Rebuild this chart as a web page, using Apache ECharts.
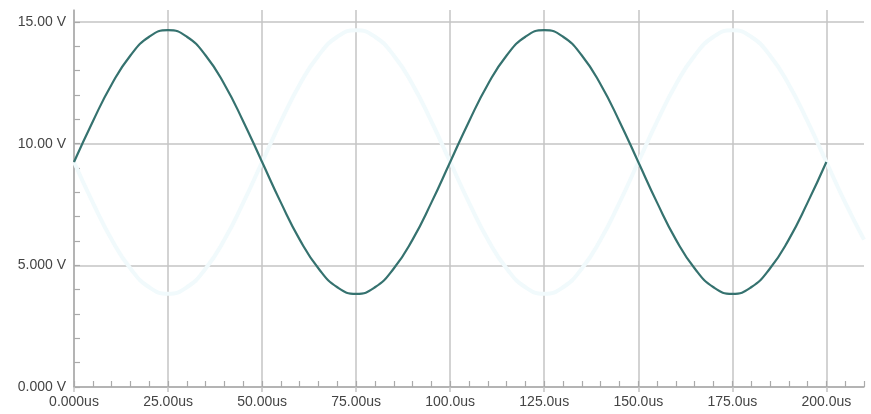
<!DOCTYPE html>
<html>
<head>
<meta charset="utf-8">
<script src="https://cdn.jsdelivr.net/npm/echarts@6/dist/echarts.min.js"></script>
<style>html,body{margin:0;padding:0;background:#fff}#c{width:871px;height:414px}</style>
</head>
<body>
<div id="c"></div>
<script>
// time axis (us) for sampled points
var timeUs = [0,5,10,15,20,25,30,35,40,45,50,55,60,65,70,75,80,85,90,95,100,
  105,110,115,120,125,130,135,140,145,150,155,160,165,170,175,180,185,190,195,200,205,210];
// dark trace (V), 0..200us
var traceMain = [9.25,10.92,12.44,13.63,14.40,14.67,14.40,13.63,12.44,10.92,9.25,7.58,6.06,4.87,4.10,3.83,4.10,4.87,6.06,7.58,9.25,
  10.92,12.44,13.63,14.40,14.67,14.40,13.63,12.44,10.92,9.25,7.58,6.06,4.87,4.10,3.83,4.10,4.87,6.06,7.58,9.25];
// faint trace (V), 0..210us
var traceFaint = [9.25,7.58,6.06,4.87,4.10,3.83,4.10,4.87,6.06,7.58,9.25,10.92,12.44,13.63,14.40,14.67,14.40,13.63,12.44,10.92,9.25,
  7.58,6.06,4.87,4.10,3.83,4.10,4.87,6.06,7.58,9.25,10.92,12.44,13.63,14.40,14.67,14.40,13.63,12.44,10.92,9.25,7.58,6.06];
var xLabels = {0:'0.000us',25:'25.00us',50:'50.00us',75:'75.00us',100:'100.0us',125:'125.0us',150:'150.0us',175:'175.0us',200:'200.0us'};
var yLabels = {0:'0.000 V',5:'5.000 V',10:'10.00 V',15:'15.00 V'};

var mainData = traceMain.map(function(v,i){return [timeUs[i], v];});
var faintData = traceFaint.map(function(v,i){return [timeUs[i], v];});

var font = 'Liberation Sans, Arial, sans-serif';
var labelColor = '#444';
var gridColor = '#c4c4c4';
var chart = echarts.init(document.getElementById('c'), null, {renderer:'canvas'});
chart.setOption({
  animation:false,
  backgroundColor:'#fff',
  grid:[
    {left:74, right:7, top:10, bottom:27, containLabel:false},
    {left:74, right:7, top:22, bottom:27, containLabel:false}
  ],
  xAxis:[
    {type:'value', gridIndex:0, min:0, max:210, interval:25,
     axisLine:{show:true, lineStyle:{color:'#aaa', width:1.5}},
     axisTick:{show:true, inside:false, length:5, lineStyle:{color:gridColor, width:1.5}},
     axisLabel:{showMaxLabel:false, color:labelColor, fontFamily:font, fontSize:14, margin:8,
       formatter:function(v){return xLabels[v]!==undefined?xLabels[v]:'';}},
     splitLine:{show:true, showMaxLine:false, lineStyle:{color:gridColor, width:1.5}}},
    {type:'value', gridIndex:1, min:0, max:210, interval:5,
     axisLine:{show:false}, axisLabel:{show:false}, splitLine:{show:false},
     axisTick:{show:true, inside:true, length:6, lineStyle:{color:'#aaa', width:1.2}}}
  ],
  yAxis:[
    {type:'value', gridIndex:0, min:0, max:15.5, interval:5,
     axisLine:{show:true, lineStyle:{color:'#aaa', width:1.5}},
     axisTick:{show:false},
     axisLabel:{showMaxLabel:false, color:labelColor, fontFamily:font, fontSize:14, margin:8,
       formatter:function(v){return yLabels[v]!==undefined?yLabels[v]:'';}},
     splitLine:{show:true, showMaxLine:false, lineStyle:{color:gridColor, width:1.5}}},
    {type:'value', gridIndex:1, min:0, max:15, interval:1,
     axisLine:{show:false}, axisLabel:{show:false}, splitLine:{show:false},
     axisTick:{show:true, inside:true, length:6, lineStyle:{color:'#aaa', width:1.2}}}
  ],
  series:[
    {type:'line', xAxisIndex:0, yAxisIndex:0, data:mainData, smooth:0.5, showSymbol:false,
     lineStyle:{color:'#35726f', width:2.2}, z:3},
    {type:'line', xAxisIndex:0, yAxisIndex:0, data:faintData, smooth:0.5, showSymbol:false,
     lineStyle:{color:'#f1fafc', width:4}, z:2}
  ]
});
</script>
</body>
</html>
